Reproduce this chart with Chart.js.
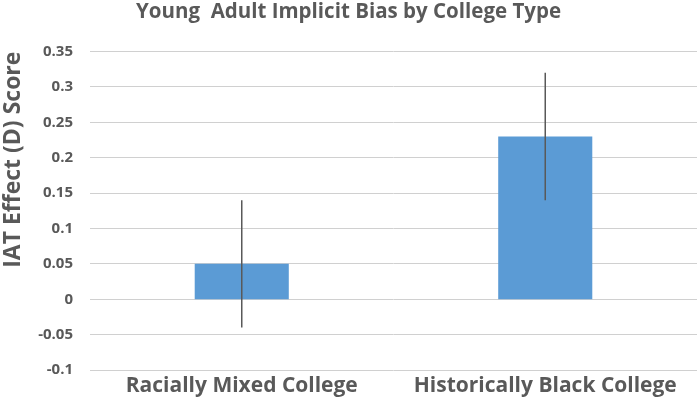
<!DOCTYPE html>
<html>
<head>
<meta charset="utf-8">
<script src="https://cdn.jsdelivr.net/npm/chart.js@4"></script>
<style>
  html, body { margin: 0; padding: 0; background: #fff; }
  #wrap { width: 700px; height: 405px; }
</style>
</head>
<body>
<div id="wrap"><canvas id="myChart"></canvas></div>
<script>
// chart data
const categories = ['Racially Mixed College', 'Historically Black College'];
const scores = [0.05, 0.23];
const errLow = [-0.04, 0.14];
const errHigh = [0.14, 0.32];

const textGray = '#595959';
const fontName = '"Open Sans"';

// vertical error bars, no caps
const errorBars = {
    id: 'errorBars',
    afterDatasetsDraw(chart) {
        const ctx = chart.ctx;
        const yScale = chart.scales.y;
        const meta = chart.getDatasetMeta(0);
        ctx.save();
        ctx.strokeStyle = '#595959';
        ctx.lineWidth = 1.5;
        meta.data.forEach(function (bar, i) {
            ctx.beginPath();
            ctx.moveTo(bar.x, yScale.getPixelForValue(errLow[i]));
            ctx.lineTo(bar.x, yScale.getPixelForValue(errHigh[i]));
            ctx.stroke();
        });
        ctx.restore();
    }
};

var ctx = document.getElementById('myChart').getContext('2d');
new Chart(ctx, {
    type: 'bar',
    data: {
        labels: categories,
        datasets: [{
            data: scores,
            backgroundColor: '#5b9bd5',
            borderWidth: 0,
            categoryPercentage: 1,
            barPercentage: 0.31
        }]
    },
    options: {
        responsive: true,
        maintainAspectRatio: false,
        animation: false,
        layout: { padding: { left: 0, right: 3, top: 0, bottom: 0 } },
        plugins: {
            legend: { display: false },
            tooltip: { enabled: false },
            title: {
                display: true,
                text: 'Young  Adult Implicit Bias by College Type',
                color: textGray,
                font: { family: fontName, size: 20.5, weight: 'bold' },
                padding: { top: 0, bottom: 27 }
            }
        },
        scales: {
            x: {
                grid: { display: false, drawTicks: false },
                border: { display: false },
                ticks: {
                    color: textGray,
                    font: { family: fontName, size: 21, weight: 'bold' },
                    padding: 3,
                    maxRotation: 0
                },
                afterFit: function (scale) { scale.height = 35; }
            },
            y: {
                min: -0.1,
                max: 0.35,
                grid: { color: '#d0d0d0', lineWidth: 1, drawTicks: false },
                border: { display: false },
                ticks: {
                    stepSize: 0.05,
                    color: textGray,
                    font: { family: fontName, size: 15, weight: 'bold' },
                    padding: 17,
                    callback: function (v) { return parseFloat(v.toFixed(2)).toString(); }
                },
                title: {
                    display: true,
                    align: 'end',
                    text: 'IAT Effect (D) Score',
                    color: textGray,
                    font: { family: fontName, size: 23, weight: 'bold' },
                    padding: { top: 0, bottom: 4 }
                },
                afterFit: function (scale) { scale.width = 90; }
            }
        }
    },
    plugins: [errorBars]
});
</script>
</body>
</html>
